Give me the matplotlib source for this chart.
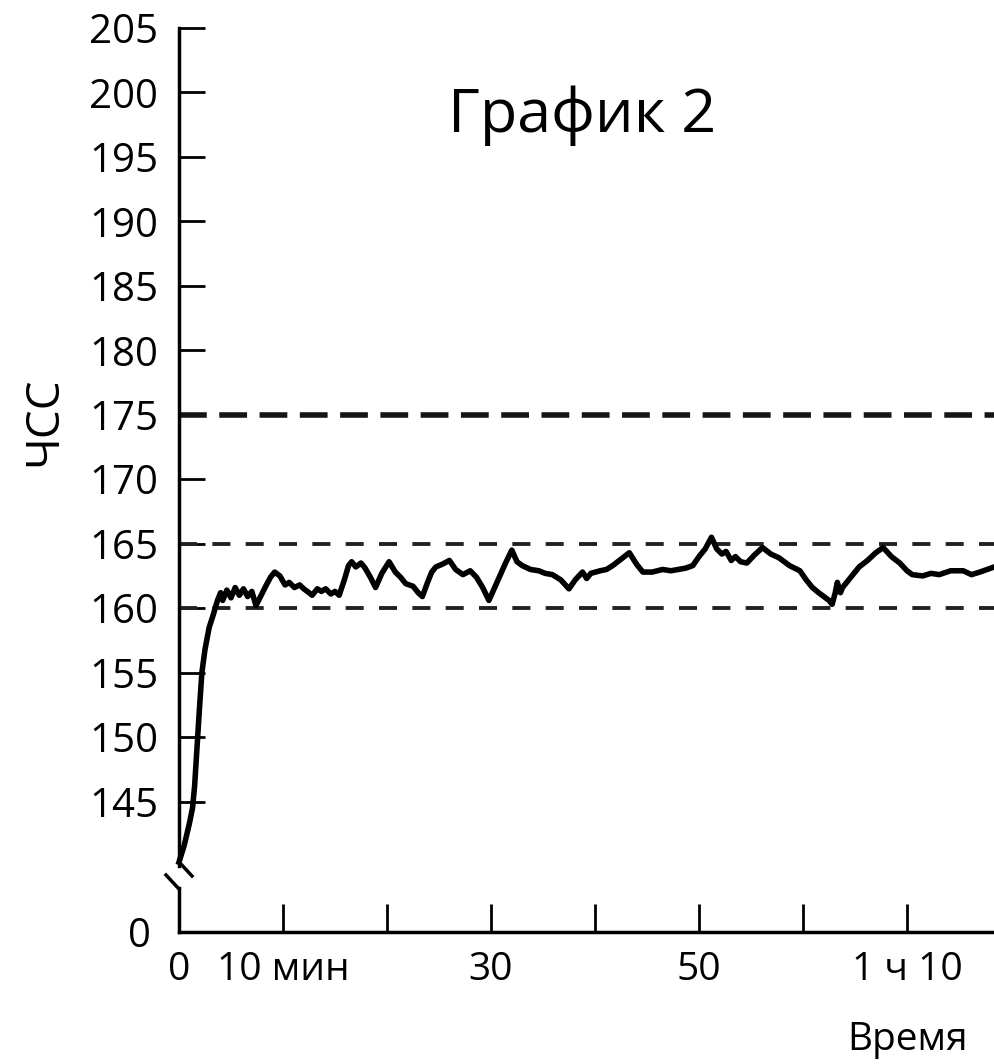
import matplotlib
matplotlib.use("Agg")
import matplotlib.pyplot as plt
from matplotlib.lines import Line2D

plt.rcParams['font.family'] = ['Open Sans', 'DejaVu Sans']
plt.rcParams['lines.scale_dashes'] = False

# heart rate trace (time in minutes, beats per minute)
time_min = [0, 0.5, 1.0, 1.3, 1.5, 1.7, 1.95, 2.2, 2.5, 2.9,
            3.3, 3.7, 4.0, 4.2, 4.6, 5.0, 5.4, 5.8, 6.2, 6.6,
            7.0, 7.4, 7.9, 8.4, 8.8, 9.2, 9.7, 10.2, 10.6, 11.1,
            11.6, 12.0, 12.5, 12.8, 13.3, 13.7, 14.1, 14.6, 15.0, 15.4,
            15.9, 16.3, 16.6, 17.0, 17.5, 17.9, 18.4, 18.9, 19.5, 20.2,
            20.8, 21.3, 21.8, 22.5, 23.0, 23.4, 23.9, 24.3, 24.7, 25.3,
            26.0, 26.6, 27.3, 28.0, 28.6, 29.2, 29.8, 30.3, 30.8, 31.4,
            32.0, 32.5, 33.0, 33.8, 34.6, 35.2, 35.9, 36.7, 37.5, 38.1,
            38.8, 39.2, 39.6, 40.5, 41.1, 41.7, 42.5, 43.3, 44.0, 44.6,
            45.5, 46.5, 47.3, 48.0, 48.7, 49.4, 50.0, 50.6, 51.2, 51.7,
            52.2, 52.6, 53.1, 53.5, 54.0, 54.6, 55.3, 56.1, 56.9, 57.7,
            58.7, 59.7, 60.3, 60.9, 61.5, 62.0, 62.5, 62.8, 63.1, 63.3,
            63.6, 63.8, 64.5, 65.4, 66.2, 67.0, 67.7, 68.5, 69.3, 70.0,
            70.5, 71.5, 72.3, 73.1, 74.2, 75.4, 76.2, 77.0, 77.7, 78.4]
heart_rate = [140.3, 141.6, 143.3, 144.5, 146.2, 148.8, 152.0, 155.0, 156.8, 158.5,
              159.5, 160.6, 161.2, 160.6, 161.4, 160.8, 161.6, 161.0, 161.5, 160.9,
              161.3, 160.2, 161.0, 161.8, 162.4, 162.8, 162.5, 161.8, 162.0, 161.6,
              161.8, 161.5, 161.2, 161.0, 161.5, 161.3, 161.5, 161.1, 161.3, 161.0,
              162.2, 163.3, 163.6, 163.2, 163.5, 163.1, 162.4, 161.6, 162.7, 163.6,
              162.8, 162.4, 161.9, 161.7, 161.2, 160.9, 162.0, 162.8, 163.2, 163.4,
              163.7, 163.0, 162.6, 162.9, 162.4, 161.6, 160.6, 161.5, 162.4, 163.5,
              164.5, 163.6, 163.3, 163.0, 162.9, 162.7, 162.6, 162.2, 161.5, 162.2,
              162.8, 162.3, 162.7, 162.9, 163.0, 163.3, 163.8, 164.3, 163.4, 162.8,
              162.8, 163.0, 162.9, 163.0, 163.1, 163.3, 164.0, 164.6, 165.5, 164.6,
              164.2, 164.4, 163.7, 164.0, 163.6, 163.5, 164.1, 164.7, 164.2, 163.9,
              163.3, 162.9, 162.2, 161.6, 161.2, 160.9, 160.6, 160.3, 161.2, 162.0,
              161.2, 161.6, 162.3, 163.2, 163.7, 164.3, 164.7, 164.0, 163.5, 162.9,
              162.6, 162.5, 162.7, 162.6, 162.9, 162.9, 162.6, 162.8, 163.0, 163.2]

zone_levels = [175, 165, 160]
y_ticks = [145, 150, 155, 160, 165, 170, 175, 180, 185, 190, 195, 200, 205]
x_ticks = [0, 10, 20, 30, 40, 50, 60, 70]
x_labels = ["0", "10 мин", "", "30", "", "50", "", "1 ч 10"]

W, H = 995, 1064
fig = plt.figure(figsize=(W / 100, H / 100), dpi=100)


def box(x0, y0, x1, y1):
    # pixel box (top-left origin) -> figure fractions
    return [x0 / W, 1 - y1 / H, (x1 - x0) / W, (y1 - y0) / H]


# upper part of the broken axis
ax = fig.add_axes(box(179, 28, 995, 866))
ax.set_xlim(0, 78.46)
ax.set_ylim(140, 205)
# lower part, only the zero
axb = fig.add_axes(box(179, 888, 995, 932))
axb.set_xlim(0, 78.46)
axb.set_ylim(0, 1)

for a in (ax, axb):
    a.patch.set_alpha(0)
    for s in ("top", "right"):
        a.spines[s].set_visible(False)
    a.spines["left"].set_linewidth(2.5)
ax.spines["bottom"].set_visible(False)
axb.spines["bottom"].set_linewidth(2.5)

# target zone lines
ax.axhline(zone_levels[0], color="#151515", lw=4, dashes=(20, 9))
ax.axhline(zone_levels[1], color="#222222", lw=2.8, dashes=(13, 11))
ax.axhline(zone_levels[2], color="#222222", lw=2.8, dashes=(13, 11))

ax.plot(time_min, heart_rate, color="black", lw=4, solid_joinstyle="round", clip_on=False)

ax.set_xticks([])
ax.set_yticks(y_ticks)
ax.tick_params(axis="y", direction="in", length=19, width=2, labelsize=29, pad=15)

axb.set_xticks(x_ticks, x_labels)
axb.tick_params(axis="x", direction="in", length=20, width=2, labelsize=28, pad=14)
axb.set_yticks([0], ["0"])
axb.tick_params(axis="y", length=0, labelsize=29, pad=20)

# axis break marks
fig.add_artist(Line2D([180 / W, 192 / W], [1 - 863 / H, 1 - 876 / H], color="black", lw=2.5))
fig.add_artist(Line2D([166 / W, 179 / W], [1 - 875 / H, 1 - 889 / H], color="black", lw=2.5))

fig.text(582 / W, 1 - 132 / H, "График 2", ha="center", va="baseline", fontsize=44)
fig.text(44 / W, 1 - 421 / H, "ЧСС", rotation=90, ha="center", va="center", fontsize=33)
fig.text(908 / W, 1 - 1040 / H, "Время", ha="center", va="center", fontsize=28)

fig.savefig("out.png", dpi=100)
